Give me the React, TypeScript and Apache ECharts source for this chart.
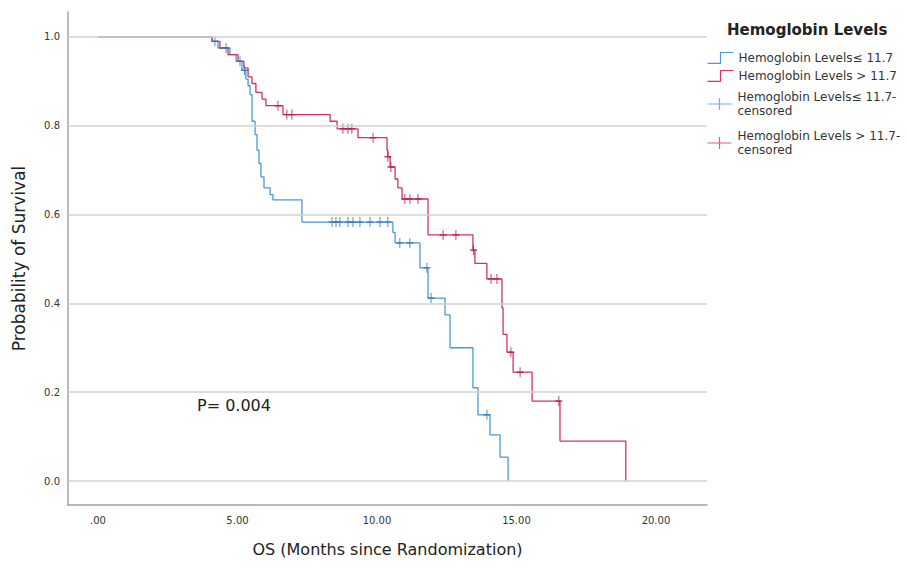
import { useEffect, useRef } from 'react';
import * as echarts from 'echarts';

// Kaplan-Meier step points (time in months, survival probability)
const lowTimes = [0, 4.09, 4.3, 4.73, 4.95, 5.16, 5.3, 5.38, 5.45, 5.52, 5.63, 5.7, 5.77, 5.84, 5.95, 6.17, 6.27, 7.31, 10.57, 10.65, 11.54, 11.83, 12.44, 12.62, 13.44, 13.62, 14.05, 14.41, 14.7];
const lowSurv = [1.0, 0.99, 0.975, 0.96, 0.945, 0.925, 0.905, 0.89, 0.87, 0.81, 0.78, 0.745, 0.715, 0.685, 0.66, 0.645, 0.633, 0.583, 0.56, 0.536, 0.48, 0.412, 0.374, 0.3, 0.21, 0.149, 0.104, 0.054, 0.0];

const highTimes = [0, 4.09, 4.37, 4.66, 5.02, 5.23, 5.38, 5.52, 5.66, 5.88, 6.02, 6.63, 8.32, 8.57, 9.32, 10.36, 10.39, 10.47, 10.65, 10.75, 10.9, 11.83, 13.44, 13.51, 13.94, 14.48, 14.52, 14.66, 14.88, 15.56, 16.56, 18.92];
const highSurv = [1.0, 0.99, 0.975, 0.96, 0.945, 0.93, 0.91, 0.895, 0.875, 0.86, 0.845, 0.825, 0.81, 0.793, 0.773, 0.745, 0.73, 0.707, 0.68, 0.66, 0.635, 0.554, 0.52, 0.49, 0.455, 0.39, 0.33, 0.29, 0.245, 0.18, 0.09, 0.0];

// Censored observations
const lowCensorTimes = [4.19, 4.59, 5.09, 5.25, 8.39, 8.53, 8.67, 8.96, 9.14, 9.39, 9.75, 10.11, 10.39, 10.82, 11.18, 11.79, 11.94, 13.94];
const lowCensorSurv = [0.99, 0.975, 0.945, 0.925, 0.583, 0.583, 0.583, 0.583, 0.583, 0.583, 0.583, 0.583, 0.583, 0.536, 0.536, 0.48, 0.412, 0.149];

const highCensorTimes = [6.45, 6.77, 6.95, 8.78, 8.96, 9.1, 9.86, 10.39, 10.5, 11.0, 11.18, 11.47, 12.37, 12.83, 13.46, 14.09, 14.3, 14.8, 15.13, 16.52];
const highCensorSurv = [0.845, 0.825, 0.825, 0.793, 0.793, 0.793, 0.773, 0.73, 0.707, 0.635, 0.635, 0.635, 0.554, 0.554, 0.52, 0.455, 0.455, 0.29, 0.245, 0.18];

const xTicks = [0, 5, 10, 15, 20];
const yTicks = [0, 0.2, 0.4, 0.6, 0.8, 1.0];

const seriesNames = [
  'Hemoglobin Levels≤ 11.7',
  'Hemoglobin Levels > 11.7',
  'Hemoglobin Levels≤ 11.7-censored',
  'Hemoglobin Levels > 11.7-censored',
];

const BLUE = '#4b9ad6';
const RED = '#d6325a';
const BLUE_DARK = '#2f72b0';
const RED_DARK = '#b8173f';
const FONT = 'DejaVu Sans';

export default function App() {
  const ref = useRef<HTMLDivElement>(null);

  useEffect(() => {
    if (!ref.current) return;
    const chart = echarts.init(ref.current, null, { renderer: 'svg' });

    const zip = (a: number[], b: number[]) => a.map((t, i) => [t, b[i]]);
    const stepIcon = 'path://M0,10L12,10L12,0L24,0';
    const plusIcon = 'path://M0,6L24,6M12,0L12,12';

    const legendTops = [50, 68, 90, 129];
    const legendIcons = [stepIcon, stepIcon, plusIcon, plusIcon];
    const legendColors = [BLUE, RED, BLUE, RED];

    const option: any = {
      animation: false,
      backgroundColor: '#ffffff',
      textStyle: { fontFamily: FONT },
      title: {
        text: 'Hemoglobin Levels',
        left: 727,
        top: 22,
        padding: 0,
        textStyle: { fontFamily: FONT, fontSize: 15, fontWeight: 'bold', color: '#222' },
      },
      legend: seriesNames.map((name, i) => ({
        left: 705,
        top: legendTops[i],
        padding: 0,
        itemWidth: 26,
        itemHeight: 12,
        itemGap: 0,
        selectedMode: false,
        orient: 'vertical',
        formatter: (n: string) => n.replace('-censored', '-\ncensored'),
        textStyle: { fontFamily: FONT, fontSize: 12, color: '#333', lineHeight: 14 },
        data: [
          {
            name,
            icon: legendIcons[i],
            itemStyle: { color: 'none', borderColor: legendColors[i], borderWidth: 1.2 },
          },
        ],
      })),
      grid: { left: 68, right: 201, top: 12, bottom: 65 },
      xAxis: {
        type: 'value',
        min: -1.075,
        max: 21.83,
        axisLine: { show: true, onZero: false, lineStyle: { color: '#a3a3a3', width: 1.5 } },
        axisTick: { show: false },
        splitLine: { show: false },
        axisLabel: {
          customValues: xTicks,
          formatter: (v: number) => (v === 0 ? '.00' : v.toFixed(2)),
          fontFamily: FONT,
          fontSize: 10,
          color: '#333',
          margin: 10,
        },
        name: 'OS (Months since Randomization)',
        nameLocation: 'middle',
        nameGap: 36,
        nameTextStyle: { fontFamily: FONT, fontSize: 16, color: '#222' },
      },
      yAxis: {
        type: 'value',
        min: -0.054,
        max: 1.056,
        axisLine: { show: true, onZero: false, lineStyle: { color: '#a3a3a3', width: 1.5 } },
        axisTick: { show: false },
        splitLine: { show: false },
        axisLabel: {
          customValues: yTicks,
          formatter: (v: number) => v.toFixed(1),
          fontFamily: FONT,
          fontSize: 10,
          color: '#333',
          margin: 8,
        },
        name: 'Probability of Survival',
        nameLocation: 'middle',
        nameGap: 41,
        nameTextStyle: { fontFamily: FONT, fontSize: 17, color: '#222' },
      },
      graphic: [
        {
          type: 'text',
          left: 197,
          top: 397,
          style: { text: 'P= 0.004', font: `16px "${FONT}"`, fill: '#222' },
        },
      ],
      series: [
        {
          name: '__grid',
          type: 'line',
          data: [],
          z: 1,
          silent: true,
          markLine: {
            silent: true,
            symbol: ['none', 'none'],
            label: { show: false },
            lineStyle: { color: '#d2d2d2', width: 1.5, type: 'solid' },
            data: yTicks.map((v) => ({ yAxis: v })),
          },
        },
        {
          name: seriesNames[0],
          type: 'line',
          step: 'end',
          showSymbol: false,
          symbol: 'none',
          z: 3,
          lineStyle: { color: BLUE, width: 1.3 },
          itemStyle: { color: BLUE },
          data: zip(lowTimes, lowSurv),
        },
        {
          name: seriesNames[1],
          type: 'line',
          step: 'end',
          showSymbol: false,
          symbol: 'none',
          z: 3,
          lineStyle: { color: RED, width: 1.3 },
          itemStyle: { color: RED },
          data: zip(highTimes, highSurv),
        },
        {
          name: seriesNames[2],
          type: 'scatter',
          symbol: 'path://M5,0L5,10M0,5L10,5',
          symbolSize: [7, 10],
          z: 4,
          itemStyle: { color: 'none', borderColor: BLUE_DARK, borderWidth: 1.2 },
          data: zip(lowCensorTimes, lowCensorSurv),
        },
        {
          name: seriesNames[3],
          type: 'scatter',
          symbol: 'path://M5,0L5,10M0,5L10,5',
          symbolSize: [7, 10],
          z: 4,
          itemStyle: { color: 'none', borderColor: RED_DARK, borderWidth: 1.2 },
          data: zip(highCensorTimes, highCensorSurv),
        },
      ],
    };

    chart.setOption(option);
    return () => chart.dispose();
  }, []);

  return (
    <div
      ref={ref}
      style={{ position: 'fixed', left: 0, top: 0, width: 908, height: 570, background: '#fff' }}
    />
  );
}
